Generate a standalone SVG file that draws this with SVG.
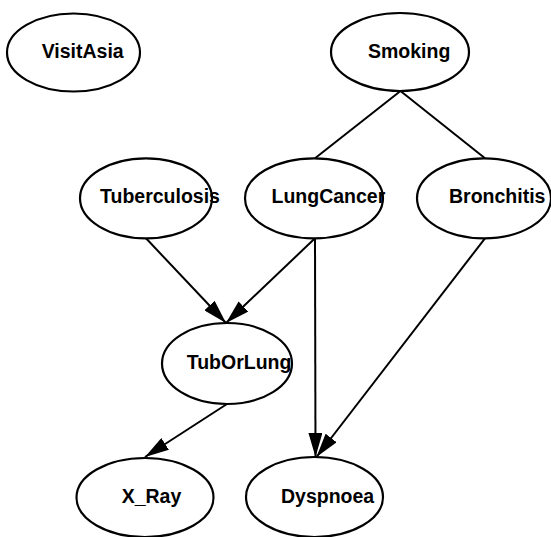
<svg xmlns="http://www.w3.org/2000/svg" width="551" height="537" viewBox="0 0 551 537">
<style>
.node ellipse{fill:#fff;stroke:#000;stroke-width:2.2}
.node text{font-family:"Liberation Sans",Arial,sans-serif;font-weight:bold;font-size:19.5px;fill:#000}
.edge{stroke:#000;stroke-width:2;fill:none}
</style>
<defs>
<marker id="arr" viewBox="0 0 24 14" refX="24" refY="7" markerWidth="24" markerHeight="14" markerUnits="userSpaceOnUse" orient="auto">
<path d="M0,0 L24,7 L0,14 z" fill="#000"/>
</marker>
</defs>
<rect width="551" height="537" fill="#fff"/>
<g id="connectors">
<line class="edge" x1="400.5" y1="91" x2="315" y2="158.3"/>
<line class="edge" x1="400.5" y1="91" x2="485" y2="158.3"/>
<line class="edge" x1="146" y1="238.3" x2="226" y2="323" marker-end="url(#arr)"/>
<line class="edge" x1="315" y1="238.3" x2="226" y2="323" marker-end="url(#arr)"/>
<line class="edge" x1="315" y1="238.3" x2="315.5" y2="457" marker-end="url(#arr)"/>
<line class="edge" x1="485" y1="238.3" x2="316.5" y2="457" marker-end="url(#arr)"/>
<line class="edge" x1="227" y1="404" x2="145" y2="457" marker-end="url(#arr)"/>
</g>
<g id="VisitAsia" class="node"><ellipse cx="73.5" cy="52.5" rx="66.5" ry="39"/><text x="41.7" y="58">VisitAsia</text></g>
<g id="Smoking" class="node"><ellipse cx="400" cy="52" rx="69" ry="39"/><text x="368" y="57.5">Smoking</text></g>
<g id="Tuberculosis" class="node"><ellipse cx="146" cy="198.3" rx="66" ry="40"/><text x="100" y="203">Tuberculosis</text></g>
<g id="LungCancer" class="node"><ellipse cx="314" cy="198.3" rx="69" ry="40"/><text x="271.5" y="203">LungCancer</text></g>
<g id="Bronchitis" class="node"><ellipse cx="484" cy="198.3" rx="67" ry="40"/><text x="449" y="203">Bronchitis</text></g>
<g id="TubOrLung" class="node"><ellipse cx="227" cy="363.5" rx="65" ry="40.5"/><text x="186.7" y="369">TubOrLung</text></g>
<g id="X_Ray" class="node"><ellipse cx="145" cy="497.5" rx="68.5" ry="39.5"/><text x="121.7" y="503">X_Ray</text></g>
<g id="Dyspnoea" class="node"><ellipse cx="314.5" cy="497" rx="68.5" ry="40"/><text x="281" y="502.5">Dyspnoea</text></g>
</svg>
